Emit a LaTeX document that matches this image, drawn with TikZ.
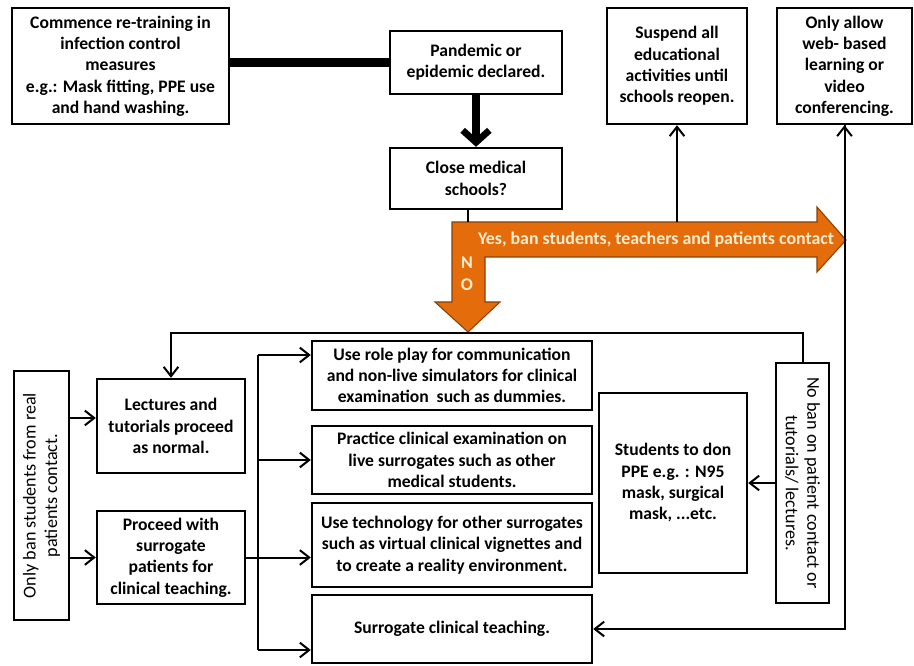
\documentclass[tikz,border=0pt]{standalone}
\usepackage{fontspec}
\setmainfont{Carlito}
\usetikzlibrary{arrows.meta}
\definecolor{banorange}{RGB}{228,108,10}
\definecolor{bantext}{RGB}{255,236,205}
\tikzset{
    box/.style={draw, line width=1.8pt, align=center, inner sep=1pt,
        font=\bfseries\fontsize{13.2}{16}\selectfont},
    sidebox/.style={box, font=\fontsize{13.6}{16}\selectfont},
    wh/.style 2 args={minimum width=#1*0.75pt, minimum height=#2*0.75pt},
    arr/.style={line width=1.5pt, -{Straight Barb[length=7pt, width=11pt, line width=1.5pt]}},
    thick line/.style={line width=6.5pt},
    bantxt/.style={text=bantext, font=\bfseries\fontsize{13.4}{15}\selectfont},
}
\begin{document}
\begin{tikzpicture}[x=0.75pt, y=-0.75pt]
    \useasboundingbox (0,0) rectangle (914,666);

    \draw
        (120.5,66) node[box, wh={217}{116}] (commence) {Commence re-training in\\infection control\\measures\\e.g.: Mask fitting, PPE use\\and hand washing.}
        (476,62.5) node[box, wh={172}{63}] (pandemic) {Pandemic or\\epidemic declared.}
        (476,178.5) node[box, wh={172}{61}] (close) {Close medical\\schools?}
        (677,66) node[box, wh={140}{116}] (suspend) {Suspend all\\educational\\activities until\\schools reopen.}
        (844.5,66) node[box, wh={135}{116}] (allow) {Only allow\\web- based\\learning or\\video\\conferencing.}
        (41.5,495.5) node[sidebox, wh={249}{55}, rotate=90] (onlyban) {Only ban students from real\\patients contact.}
        (171,426) node[box, wh={148}{94}] (lectures) {Lectures and\\tutorials proceed\\as normal.}
        (171,557.5) node[box, wh={148}{93}] (proceed) {Proceed with\\surrogate\\patients for\\clinical teaching.}
        (452,375.5) node[box, wh={280}{69}] (roleplay) {Use role play for communication\\and non-live simulators for clinical\\examination\ \ such as dummies.}
        (452,460) node[box, wh={280}{68}] (practice) {Practice clinical examination on\\live surrogates such as other\\medical students.}
        (452,545) node[box, wh={280}{84}] (technology) {Use technology for other surrogates\\such as virtual clinical vignettes and\\to create a reality environment.}
        (452,629) node[box, wh={280}{68}] (surrogate) {Surrogate clinical teaching.}
        (673,483) node[box, wh={148}{180}] (students) {Students to don\\PPE e.g. : N95\\mask, surgical\\mask, ...etc.}
        (802.5,483) node[sidebox, wh={240}{53}, rotate=-90] (noban) {No ban on patient contact or\\tutorials/ lectures.}
        ;

    \coordinate (notop) at (468,222);
    \coordinate (loop) at (0,333);
    \coordinate (bus) at (258,0);
    \coordinate (busTop) at (258,355);
    \coordinate (busBot) at (258,650);
    \coordinate (toLectures) at (0,418);

    \draw[banorange!60!black, line width=0.8pt, fill=banorange]
        (452,222) -- (817,222) -- (817,207) -- (846,240) -- (817,272) -- (817,257)
        -- (485,257) -- (485,302) -- (500,302) -- (468,332) -- (435,302) -- (452,302) -- cycle;
    \node[bantxt] (yes) at (656,240) {Yes, ban students, teachers and patients contact};
    \node[bantxt] (no1) at (467,263) {N};
    \node[bantxt] (no2) at (467,285) {O};

    \draw[thick line] (commence.east |- pandemic.west) -- (pandemic.west);
    \draw[thick line, -{Straight Barb[length=9pt, width=20pt, line width=5pt]}] (pandemic.south) -- (close.north);
    \draw[line width=1.5pt] (close.south -| notop) -- (notop);
    \draw[arr] (suspend.south |- notop) -- (suspend.south);
    \draw[arr] (allow.south |- surrogate.east) -- (allow.south);
    \draw[arr] (allow.south) |- (surrogate.east);

    \draw[arr] (noban.west) |- (lectures.north |- loop) -- (lectures.north);
    \draw[arr] (noban.south) -- (students.east);

    \draw[arr] (onlyban.south |- toLectures) -- (lectures.west |- toLectures);
    \draw[arr] (onlyban.south |- proceed.west) -- (proceed.west);

    \draw[line width=1.5pt] (busTop) -- (busBot);
    \draw[arr] (proceed.east) -- (proceed.east -| technology.west);
    \draw[arr] (busTop) -- (busTop -| roleplay.west);
    \draw[arr] (bus |- practice.west) -- (practice.west);
    \draw[arr] (busBot) -- (busBot -| surrogate.west);
\end{tikzpicture}
\end{document}
